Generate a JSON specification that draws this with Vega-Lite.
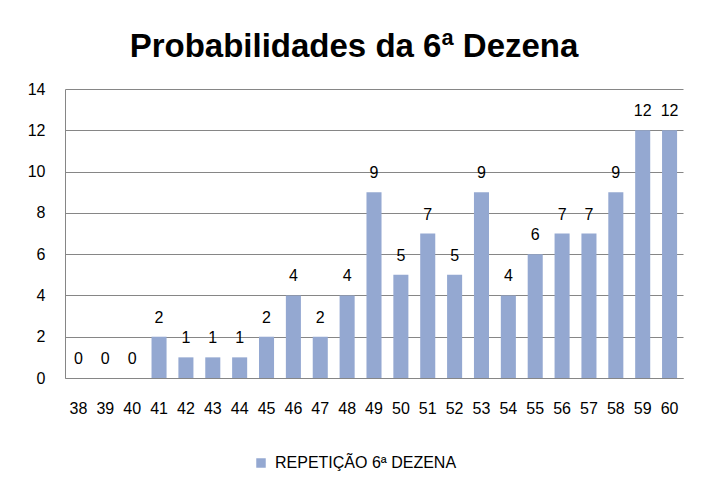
{
  "$schema": "https://vega.github.io/schema/vega-lite/v6.json",
  "autosize": {"type": "none"},
  "width": 618,
  "height": 289,
  "padding": {"left": 65, "top": 89, "right": 23, "bottom": 121},
  "background": "white",
  "title": {
    "text": "Probabilidades da 6ª Dezena",
    "font": "Liberation Sans",
    "fontSize": 33,
    "fontWeight": "bold",
    "color": "black",
    "anchor": "middle",
    "frame": "group",
    "baseline": "alphabetic",
    "offset": -9,
    "dx": -20
  },
  "data": {
    "values": [
      {"dezena": "38", "valor": 0, "serie": "REPETIÇÃO 6ª DEZENA"},
      {"dezena": "39", "valor": 0, "serie": "REPETIÇÃO 6ª DEZENA"},
      {"dezena": "40", "valor": 0, "serie": "REPETIÇÃO 6ª DEZENA"},
      {"dezena": "41", "valor": 2, "serie": "REPETIÇÃO 6ª DEZENA"},
      {"dezena": "42", "valor": 1, "serie": "REPETIÇÃO 6ª DEZENA"},
      {"dezena": "43", "valor": 1, "serie": "REPETIÇÃO 6ª DEZENA"},
      {"dezena": "44", "valor": 1, "serie": "REPETIÇÃO 6ª DEZENA"},
      {"dezena": "45", "valor": 2, "serie": "REPETIÇÃO 6ª DEZENA"},
      {"dezena": "46", "valor": 4, "serie": "REPETIÇÃO 6ª DEZENA"},
      {"dezena": "47", "valor": 2, "serie": "REPETIÇÃO 6ª DEZENA"},
      {"dezena": "48", "valor": 4, "serie": "REPETIÇÃO 6ª DEZENA"},
      {"dezena": "49", "valor": 9, "serie": "REPETIÇÃO 6ª DEZENA"},
      {"dezena": "50", "valor": 5, "serie": "REPETIÇÃO 6ª DEZENA"},
      {"dezena": "51", "valor": 7, "serie": "REPETIÇÃO 6ª DEZENA"},
      {"dezena": "52", "valor": 5, "serie": "REPETIÇÃO 6ª DEZENA"},
      {"dezena": "53", "valor": 9, "serie": "REPETIÇÃO 6ª DEZENA"},
      {"dezena": "54", "valor": 4, "serie": "REPETIÇÃO 6ª DEZENA"},
      {"dezena": "55", "valor": 6, "serie": "REPETIÇÃO 6ª DEZENA"},
      {"dezena": "56", "valor": 7, "serie": "REPETIÇÃO 6ª DEZENA"},
      {"dezena": "57", "valor": 7, "serie": "REPETIÇÃO 6ª DEZENA"},
      {"dezena": "58", "valor": 9, "serie": "REPETIÇÃO 6ª DEZENA"},
      {"dezena": "59", "valor": 12, "serie": "REPETIÇÃO 6ª DEZENA"},
      {"dezena": "60", "valor": 12, "serie": "REPETIÇÃO 6ª DEZENA"}
    ]
  },
  "encoding": {
    "x": {
      "field": "dezena",
      "type": "ordinal",
      "sort": null,
      "scale": {"paddingInner": 0.44, "paddingOuter": 0.22},
      "axis": {
        "title": null,
        "labelAngle": 0,
        "labelFont": "Liberation Sans",
        "labelFontSize": 16,
        "labelColor": "black",
        "labelPadding": 22,
        "ticks": false,
        "domainColor": "#868686",
        "domainWidth": 1
      }
    },
    "y": {
      "field": "valor",
      "type": "quantitative",
      "scale": {"domain": [0, 14], "nice": false},
      "axis": {
        "title": null,
        "values": [0, 2, 4, 6, 8, 10, 12, 14],
        "labelFont": "Liberation Sans",
        "labelFontSize": 16,
        "labelColor": "black",
        "labelPadding": 20,
        "ticks": false,
        "grid": true,
        "gridColor": "#868686",
        "gridWidth": 1,
        "domain": true,
        "domainColor": "#868686"
      }
    }
  },
  "layer": [
    {
      "mark": {"type": "bar"},
      "encoding": {
        "color": {
          "field": "serie",
          "type": "nominal",
          "scale": {"range": ["#94A8D1"]},
          "legend": {
            "title": null,
            "orient": "none",
            "legendX": 188,
            "legendY": 366,
            "symbolType": "square",
            "symbolSize": 90,
            "symbolStrokeWidth": 0,
            "labelFont": "Liberation Sans",
            "labelFontSize": 16,
            "labelColor": "black",
            "labelOffset": 6,
            "labelLimit": 400
          }
        }
      }
    },
    {
      "mark": {
        "type": "text",
        "baseline": "alphabetic",
        "dy": -14,
        "font": "Liberation Sans",
        "fontSize": 16,
        "color": "black"
      },
      "encoding": {"text": {"field": "valor", "type": "quantitative"}}
    }
  ],
  "config": {"view": {"stroke": null}}
}
